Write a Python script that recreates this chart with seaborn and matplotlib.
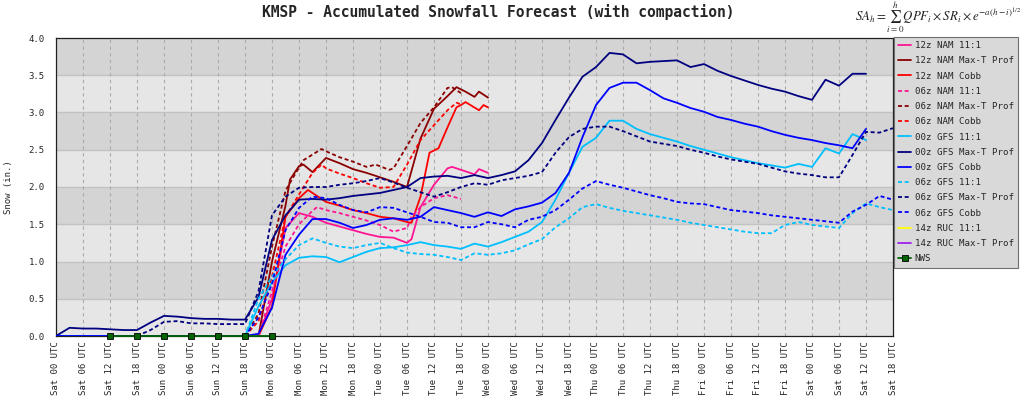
import matplotlib
matplotlib.use("Agg")
import matplotlib.pyplot as plt
from matplotlib.lines import Line2D
from matplotlib.ticker import MultipleLocator, FixedLocator
import seaborn as sns

# ---------------- data (hours after Sat 00 UTC, snow in inches) ----------------
tick_labels = [
    "Sat 00 UTC", "Sat 06 UTC", "Sat 12 UTC", "Sat 18 UTC",
    "Sun 00 UTC", "Sun 06 UTC", "Sun 12 UTC", "Sun 18 UTC",
    "Mon 00 UTC", "Mon 06 UTC", "Mon 12 UTC", "Mon 18 UTC",
    "Tue 00 UTC", "Tue 06 UTC", "Tue 12 UTC", "Tue 18 UTC",
    "Wed 00 UTC", "Wed 06 UTC", "Wed 12 UTC", "Wed 18 UTC",
    "Thu 00 UTC", "Thu 06 UTC", "Thu 12 UTC", "Thu 18 UTC",
    "Fri 00 UTC", "Fri 06 UTC", "Fri 12 UTC", "Fri 18 UTC",
    "Sat 00 UTC", "Sat 06 UTC", "Sat 12 UTC", "Sat 18 UTC",
]
tick_hours = [0, 6, 12, 18, 24, 30, 36, 42, 48, 54, 60, 66, 72, 78, 84, 90,
              96, 102, 108, 114, 120, 126, 132, 138, 144, 150, 156, 162,
              168, 174, 180, 186]

# 12z NAM
nam12_11_h = [45, 48, 51, 54, 57, 60, 63, 66, 69, 72, 75, 78, 79, 81, 84, 87, 88, 90, 93, 94, 96]
nam12_11_v = [0.0, 0.5, 1.45, 1.65, 1.6, 1.52, 1.47, 1.42, 1.37, 1.33, 1.32, 1.25, 1.30, 1.73, 2.03, 2.25, 2.27, 2.23, 2.17, 2.24, 2.19]
nam12_maxt_h = [45, 48, 51, 52, 54, 55, 57, 60, 63, 66, 69, 72, 75, 78, 81, 84, 87, 89, 91, 93, 94, 96]
nam12_maxt_v = [0.0, 1.0, 1.75, 2.1, 2.28, 2.3, 2.2, 2.39, 2.32, 2.24, 2.19, 2.13, 2.07, 2.0, 2.65, 3.05, 3.22, 3.34, 3.28, 3.21, 3.28, 3.2]
nam12_cobb_h = [45, 48, 51, 54, 56, 60, 63, 66, 69, 72, 75, 78, 79, 81, 83, 85, 87, 89, 90, 91, 94, 95, 96]
nam12_cobb_v = [0.0, 0.4, 1.6, 1.85, 1.96, 1.8, 1.75, 1.69, 1.65, 1.6, 1.58, 1.53, 1.52, 1.87, 2.46, 2.52, 2.8, 3.07, 3.1, 3.14, 3.03, 3.1, 3.07]

# 06z NAM
nam06_11_h = [45, 48, 51, 54, 57, 58, 60, 63, 66, 69, 72, 75, 78, 79, 81, 84, 87, 90]
nam06_11_v = [0.0, 0.6, 1.2, 1.5, 1.68, 1.73, 1.69, 1.65, 1.6, 1.55, 1.49, 1.4, 1.45, 1.6, 1.73, 1.85, 1.89, 1.84]
nam06_maxt_h = [42, 45, 48, 51, 53, 55, 59, 60, 63, 66, 69, 71, 72, 74, 75, 78, 81, 84, 87, 88, 90]
nam06_maxt_v = [0.0, 0.3, 1.2, 1.95, 2.16, 2.36, 2.51, 2.48, 2.4, 2.34, 2.27, 2.3, 2.28, 2.23, 2.25, 2.55, 2.86, 3.07, 3.33, 3.34, 3.26]
nam06_cobb_h = [42, 45, 48, 51, 54, 57, 59, 60, 63, 66, 69, 72, 75, 78, 81, 84, 87, 89, 90]
nam06_cobb_v = [0.0, 0.2, 0.8, 1.6, 1.9, 2.19, 2.3, 2.25, 2.18, 2.12, 2.05, 1.99, 2.0, 2.3, 2.63, 2.83, 3.03, 3.13, 3.11]

# 00z GFS
gfs_h = [0, 3, 6, 9, 12, 15, 18, 21, 24, 27, 30, 33, 36, 39, 42, 45, 48, 51, 54, 57,
         60, 63, 66, 69, 72, 75, 78, 81, 84, 87, 90, 93, 96, 99, 102, 105, 108, 111,
         114, 117, 120, 123, 126, 129, 132, 135, 138, 141, 144, 147, 150, 153, 156,
         159, 162, 165, 168, 171, 174, 177, 180]
gfs00_11_v = [0, 0, 0, 0, 0, 0, 0, 0, 0, 0, 0, 0, 0, 0, 0, 0.40, 0.72, 0.95, 1.05, 1.07,
              1.06, 0.99, 1.06, 1.13, 1.18, 1.19, 1.22, 1.26, 1.22, 1.20, 1.17, 1.24, 1.20, 1.26, 1.33, 1.40, 1.53, 1.83,
              2.19, 2.54, 2.66, 2.89, 2.89, 2.78, 2.71, 2.66, 2.61, 2.55, 2.50, 2.45, 2.40, 2.36, 2.32,
              2.29, 2.26, 2.31, 2.27, 2.52, 2.45, 2.71, 2.63]
gfs00_maxt_v = [0.0, 0.11, 0.10, 0.10, 0.09, 0.08, 0.08, 0.18, 0.27, 0.26, 0.24, 0.23, 0.23, 0.22, 0.22, 0.52, 1.29, 1.62, 1.83, 1.84,
                1.83, 1.85, 1.88, 1.90, 1.92, 1.96, 2.0, 2.12, 2.14, 2.15, 2.12, 2.16, 2.12, 2.16, 2.21, 2.36, 2.59, 2.90,
                3.20, 3.48, 3.61, 3.80, 3.78, 3.66, 3.68, 3.69, 3.70, 3.61, 3.65, 3.56, 3.49, 3.43, 3.37,
                3.32, 3.28, 3.22, 3.17, 3.44, 3.36, 3.52, 3.52]
gfs00_cobb_v = [0, 0, 0, 0, 0, 0, 0, 0, 0, 0, 0, 0, 0, 0, 0, 0.03, 0.38, 1.09, 1.36, 1.57,
                1.57, 1.52, 1.45, 1.49, 1.56, 1.58, 1.56, 1.60, 1.73, 1.69, 1.65, 1.60, 1.66, 1.61, 1.70, 1.74, 1.79, 1.92,
                2.19, 2.67, 3.10, 3.33, 3.40, 3.40, 3.30, 3.19, 3.13, 3.06, 3.01, 2.94, 2.90, 2.85, 2.81,
                2.75, 2.70, 2.66, 2.63, 2.59, 2.56, 2.52, 2.78]

# 06z GFS
gfs06_h = [18, 21, 24, 27, 30, 33, 36, 39, 42, 45, 48, 51, 54, 57,
           60, 63, 66, 69, 72, 75, 78, 81, 84, 87, 90, 93, 96, 99, 102, 105, 108, 111,
           114, 117, 120, 123, 126, 129, 132, 135, 138, 141, 144, 147, 150, 153, 156,
           159, 162, 165, 168, 171, 174, 177, 180, 183, 186]
gfs06_11_v = [0, 0, 0, 0, 0, 0, 0, 0, 0, 0.5, 0.8, 1.03, 1.22, 1.31,
              1.25, 1.20, 1.18, 1.22, 1.25, 1.18, 1.12, 1.10, 1.09, 1.06, 1.02, 1.11, 1.09, 1.11, 1.15, 1.23, 1.30, 1.46,
              1.58, 1.73, 1.77, 1.72, 1.68, 1.65, 1.62, 1.59, 1.56, 1.52, 1.49, 1.46, 1.43, 1.40, 1.38,
              1.38, 1.49, 1.53, 1.49, 1.47, 1.45, 1.65, 1.78, 1.73, 1.69]
gfs06_maxt_v = [0.0, 0.08, 0.19, 0.20, 0.17, 0.17, 0.16, 0.16, 0.16, 0.6, 1.62, 1.87, 1.99, 2.0,
                2.0, 2.03, 2.05, 2.08, 2.12, 2.06, 1.99, 1.93, 1.87, 1.93, 2.0, 2.05, 2.03, 2.09, 2.12, 2.15, 2.20, 2.46,
                2.67, 2.78, 2.81, 2.81, 2.75, 2.68, 2.61, 2.58, 2.55, 2.50, 2.46, 2.41, 2.37, 2.34, 2.31,
                2.26, 2.21, 2.18, 2.16, 2.13, 2.13, 2.43, 2.74, 2.73, 2.79]
gfs06_cobb_v = [0, 0, 0, 0, 0, 0, 0, 0, 0, 0.25, 0.7, 1.42, 1.72, 1.87,
                1.85, 1.76, 1.69, 1.66, 1.73, 1.72, 1.66, 1.60, 1.53, 1.52, 1.46, 1.46, 1.53, 1.50, 1.46, 1.56, 1.60, 1.69,
                1.83, 1.98, 2.08, 2.03, 1.99, 1.94, 1.89, 1.85, 1.80, 1.78, 1.77, 1.73, 1.69, 1.67, 1.65,
                1.62, 1.60, 1.58, 1.56, 1.54, 1.52, 1.67, 1.76, 1.88, 1.83]

# 14z RUC (nothing visible on the chart)
ruc14_11_h, ruc14_11_v = [], []
ruc14_maxt_h, ruc14_maxt_v = [], []

# NWS observed/forecast
nws_h = [12, 18, 24, 30, 36, 42, 48]
nws_v = [0, 0, 0, 0, 0, 0, 0]

# ---------------- style ----------------
sns.set_style("white")
plt.rcParams["font.family"] = ["DejaVu Sans Mono"]
plt.rcParams["mathtext.fontset"] = "stix"

FS = 6.5
LFS = 6.6
DOT = (0, (2.2, 1.5))

series = [
    ("12z NAM 11:1", nam12_11_h, nam12_11_v, "#ff1493", "-"),
    ("12z NAM Max-T Prof", nam12_maxt_h, nam12_maxt_v, "#8b0000", "-"),
    ("12z NAM Cobb", nam12_cobb_h, nam12_cobb_v, "#ff0000", "-"),
    ("06z NAM 11:1", nam06_11_h, nam06_11_v, "#ff1493", DOT),
    ("06z NAM Max-T Prof", nam06_maxt_h, nam06_maxt_v, "#8b0000", DOT),
    ("06z NAM Cobb", nam06_cobb_h, nam06_cobb_v, "#ff0000", DOT),
    ("00z GFS 11:1", gfs_h, gfs00_11_v, "#00bfff", "-"),
    ("00z GFS Max-T Prof", gfs_h, gfs00_maxt_v, "#000080", "-"),
    ("00z GFS Cobb", gfs_h, gfs00_cobb_v, "#0000ff", "-"),
    ("06z GFS 11:1", gfs06_h, gfs06_11_v, "#00bfff", DOT),
    ("06z GFS Max-T Prof", gfs06_h, gfs06_maxt_v, "#000080", DOT),
    ("06z GFS Cobb", gfs06_h, gfs06_cobb_v, "#0000ff", DOT),
    ("14z RUC 11:1", ruc14_11_h, ruc14_11_v, "#ffff00", "-"),
    ("14z RUC Max-T Prof", ruc14_maxt_h, ruc14_maxt_v, "#a020f0", "-"),
]

fig = plt.figure(figsize=(10.24, 4.19), dpi=100)
fig.patch.set_facecolor("white")
ax = fig.add_axes([56 / 1024, 1 - 336 / 419, (893 - 56) / 1024, (336 - 38) / 419])

# alternating horizontal bands
for i in range(8):
    lo = i * 0.5
    ax.axhspan(lo, lo + 0.5, color="#e6e6e6" if i % 2 == 0 else "#d4d4d4", zorder=0, lw=0)
for i in range(1, 8):
    ax.axhline(i * 0.5, color="#c2c2c2", lw=1.0, zorder=0.5)
for hh in tick_hours[1:-1]:
    ax.axvline(hh, color="#ababab", lw=0.8, ls=(0, (3, 3)), zorder=0.6)

handles = []
for label, hs, vs, col, ls in series:
    if len(hs) > 0:
        sns.lineplot(x=hs, y=vs, ax=ax, color=col, lw=1.3, estimator=None,
                     sort=False, zorder=3)
        ax.lines[-1].set_linestyle(ls)
    handles.append(Line2D([], [], color=col, lw=1.3, linestyle=ls, label=label))

sns.lineplot(x=nws_h, y=nws_v, ax=ax, color="#006400", lw=1.3, estimator=None,
             sort=False, marker="s", markersize=4.5, markerfacecolor="#006400",
             markeredgecolor="#000000", markeredgewidth=0.6, zorder=5, clip_on=False)
handles.append(Line2D([], [], color="#006400", lw=1.3, marker="s", markersize=5,
                      markerfacecolor="#006400", markeredgecolor="black",
                      markeredgewidth=0.6, label="NWS"))

ax.set_xlim(0, 186)
ax.set_ylim(0, 4.0)
ax.xaxis.set_major_locator(FixedLocator(tick_hours))
ax.set_xticklabels(tick_labels, rotation=90, fontsize=FS)
ax.xaxis.set_minor_locator(MultipleLocator(1))
ax.set_yticks([i * 0.5 for i in range(9)])
ax.set_yticklabels([f"{i * 0.5:.1f}" for i in range(9)], fontsize=FS)
ax.yaxis.set_minor_locator(MultipleLocator(0.1))
ax.tick_params(axis="both", which="major", direction="in", length=5, width=0.8,
               color="black", pad=3)
ax.tick_params(axis="both", which="minor", direction="in", length=2.5, width=0.6,
               color="black")
ax.tick_params(axis="x", which="major", pad=4)
ax.tick_params(axis="y", which="major", pad=8)
ax.set_xlabel("")
ax.set_ylabel("Snow (in.)", fontsize=FS, labelpad=11)
for s in ax.spines.values():
    s.set_color("#202020")
    s.set_linewidth(0.9)

fig.text(498 / 1024, 1 - 12 / 419, "KMSP - Accumulated Snowfall Forecast (with compaction)",
         ha="center", va="center", fontsize=10.5, fontweight="bold")
fig.text(855 / 1024, 1 - 17 / 419,
         r"$SA_h=\sum_{i=0}^{h}QPF_i\times SR_i\times e^{-a(h-i)^{1/2}}$",
         ha="left", va="center", fontsize=9.3, color="#222222")

leg = fig.legend(handles=handles, loc="upper left",
                 bbox_to_anchor=(894 / 1024, 1 - 37 / 419),
                 fontsize=LFS, frameon=True, fancybox=False, framealpha=1,
                 facecolor="#d9d9d9", edgecolor="#707070", handlelength=1.4,
                 handletextpad=0.4, labelspacing=0.68, borderpad=0.45,
                 borderaxespad=0)
leg.get_frame().set_linewidth(0.8)

fig.savefig("out.png", dpi=100)
